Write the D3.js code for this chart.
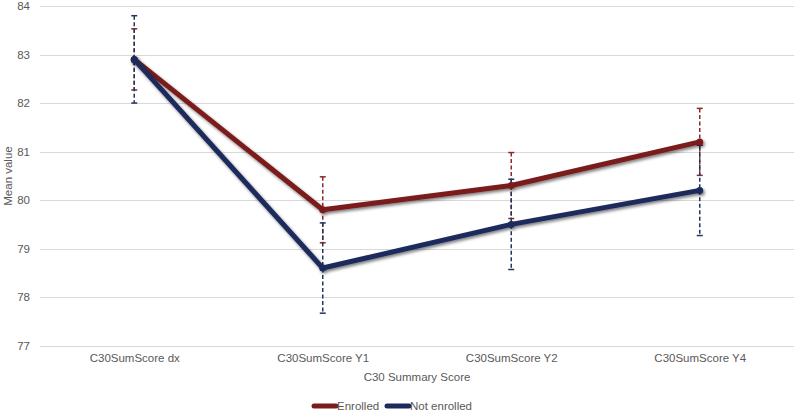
<!DOCTYPE html>
<html><head><meta charset="utf-8">
<script src="https://cdn.jsdelivr.net/npm/d3@7"></script>
<style>
body{margin:0;background:#fff;}
text{font-family:"Liberation Sans",Arial,sans-serif;fill:#595959;}
</style></head>
<body><svg id="chart" width="794" height="414"></svg>
<script>
const categories = ["C30SumScore dx","C30SumScore Y1","C30SumScore Y2","C30SumScore Y4"];
const enrolled = [82.9, 79.8, 80.3, 81.2];
const enrolledErr = [0.63, 0.68, 0.68, 0.69];
const notEnrolled = [82.9, 78.6, 79.5, 80.2];
const notEnrolledErr = [0.9, 0.93, 0.93, 0.93];
const yTicks = [77,78,79,80,81,82,83,84];
const seriesNames = ["Enrolled","Not enrolled"];
const colors = ["#7a1c1c","#1c2a5c"];
const errColors = ["#8a2a2a","#24335f"];

const svg = d3.select("#chart");
const x = d3.scalePoint().domain(categories).range([40,794]).padding(0.5);
const y = d3.scaleLinear().domain([77,84]).range([345.7,6]);

const defs = svg.append("defs");
const f = defs.append("filter").attr("id","sh").attr("x","-10%").attr("y","-10%").attr("width","120%").attr("height","130%");
f.append("feDropShadow").attr("dx",1.5).attr("dy",2).attr("stdDeviation",1.8).attr("flood-color","#000").attr("flood-opacity",0.5);

// gridlines
svg.append("g").selectAll("line").data(yTicks).join("line")
  .attr("x1",40).attr("x2",794).attr("y1",d=>Math.round(y(d))+0.5).attr("y2",d=>Math.round(y(d))+0.5)
  .attr("stroke","#d9d9d9").attr("stroke-width",1);

// y axis labels
const yAxis = d3.axisLeft(y).tickValues(yTicks).tickFormat(d3.format("d")).tickSize(0).tickPadding(0);
const ga = svg.append("g").attr("transform","translate(30,0)").call(yAxis);
ga.select(".domain").remove();
ga.selectAll("text").style("font-size","11.5px").attr("fill","#595959").style("font-family","Liberation Sans, Arial, sans-serif");

// x axis labels
const xAxis = d3.axisBottom(x).tickSize(0).tickPadding(0);
const gx = svg.append("g").attr("transform","translate(0,354)").call(xAxis);
gx.select(".domain").remove();
gx.selectAll("text").style("font-size","11.5px").attr("fill","#595959").style("font-family","Liberation Sans, Arial, sans-serif");

svg.append("text").attr("x",417).attr("y",381).attr("text-anchor","middle").style("font-size","11.5px").text("C30 Summary Score");
svg.append("text").attr("transform","translate(12,176) rotate(-90)").attr("text-anchor","middle").style("font-size","11.5px").text("Mean value");

const series = [
  {vals: enrolled, err: enrolledErr},
  {vals: notEnrolled, err: notEnrolledErr}
];

// error bars
series.forEach((s,i)=>{
  const g = svg.append("g");
  categories.forEach((c,j)=>{
    const cx = x(c), top = y(s.vals[j]+s.err[j]), bot = y(s.vals[j]-s.err[j]);
    g.append("line").attr("x1",cx).attr("x2",cx).attr("y1",top).attr("y2",bot)
      .attr("stroke",errColors[i]).attr("stroke-width",1.5).attr("stroke-dasharray","4,2.5");
    [top,bot].forEach(yy=>g.append("line").attr("x1",cx-3).attr("x2",cx+3).attr("y1",yy).attr("y2",yy)
      .attr("stroke",errColors[i]).attr("stroke-width",1.5));
  });
});

// lines
const line = d3.line().x((d,j)=>x(categories[j])).y(d=>y(d));
series.forEach((s,i)=>{
  const g = svg.append("g").attr("filter","url(#sh)");
  g.append("path").datum(s.vals).attr("d",line).attr("fill","none")
    .attr("stroke",colors[i]).attr("stroke-width",5).attr("stroke-linejoin","round").attr("stroke-linecap","round");
  g.selectAll("circle").data(s.vals).join("circle").attr("cx",(d,j)=>x(categories[j])).attr("cy",d=>y(d)).attr("r",3.5).attr("fill",colors[i]);
});

// legend
const legX = [312, 385];
seriesNames.forEach((n,i)=>{
  const g = svg.append("g").attr("transform",`translate(${legX[i]},406)`);
  g.append("line").attr("x1",2).attr("x2",24).attr("y1",0).attr("y2",0).attr("stroke",colors[i]).attr("stroke-width",5).attr("stroke-linecap","round");
  g.append("text").attr("x",25).attr("y",4).style("font-size","11.5px").text(n);
});
</script></body></html>
